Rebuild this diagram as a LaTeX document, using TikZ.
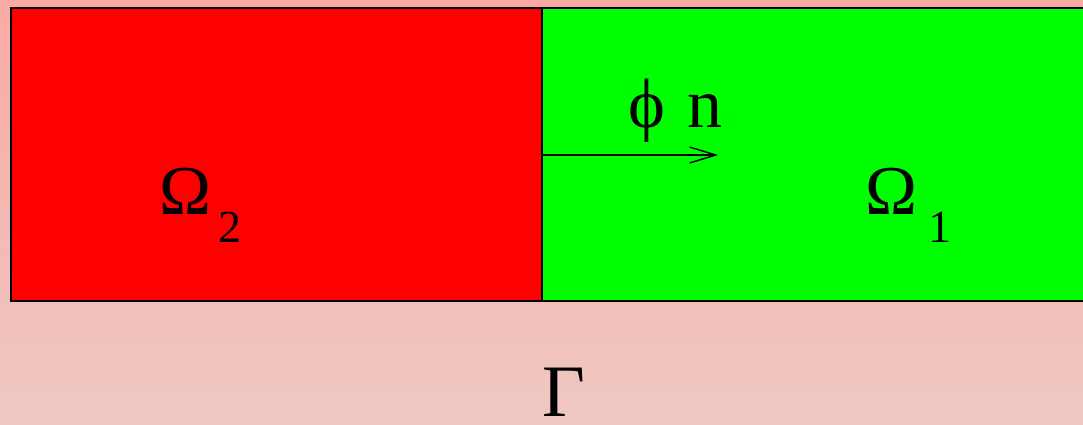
\documentclass[tikz,border=0pt]{standalone}
\usepackage{fontspec}
\setmainfont{Liberation Serif}
\usetikzlibrary{arrows.meta,positioning}
\definecolor{bgtop}{RGB}{249,171,163}
\definecolor{bgbot}{RGB}{238,200,194}
\definecolor{domtwo}{RGB}{255,0,0}
\definecolor{domone}{RGB}{0,255,0}
\tikzset{
    regionbox/.style={
        draw=black,
        line width=1pt
    },
    normal/.style={
        -{Straight Barb[length=13pt,width=8pt,line width=0.7pt]},
        line width=0.7pt,
        color=black
    },
    biglabel/.style={
        font=\fontsize{35}{42}\selectfont,
        inner sep=0pt,
        anchor=base west
    },
    sublabel/.style={
        font=\fontsize{23}{28}\selectfont,
        inner sep=0pt,
        anchor=base west
    }
}

\begin{document}
\begin{tikzpicture}[x=0.5pt,y=-0.5pt]

    % Fond
    \useasboundingbox (0,0) rectangle (1083,424);
    \clip (0,0) rectangle (1083,424);
    \shade[top color=bgtop,bottom color=bgbot]
        (0,0) rectangle (1083,424);

    % Domaines
    \draw[regionbox,fill=domtwo]
        (11,8) rectangle (542,301);
    \draw[regionbox,fill=domone]
        (542,8) rectangle (1100,301);

    % Normale
    \coordinate (iface) at (542,155);
    \coordinate (tip) at (718,155);
    \draw[normal]
        (iface) -- (tip);

    % Labels
    \node[biglabel] (phi) at (628,127) {ϕ};
    \node[biglabel] (nvec) at (687,127) {n};

    \node[biglabel] (omtwo) at (159,214) {Ω};
    \node[sublabel] (omtwosub) at (218,242) {2};

    \node[biglabel] (omone) at (865,214) {Ω};
    \node[sublabel] (omonesub) at (928,242) {1};

    \node[
        biglabel,
        font=\fontsize{37}{44}\selectfont
    ]
        (gamma) at (542,416)
        {Γ};

\end{tikzpicture}
\end{document}
